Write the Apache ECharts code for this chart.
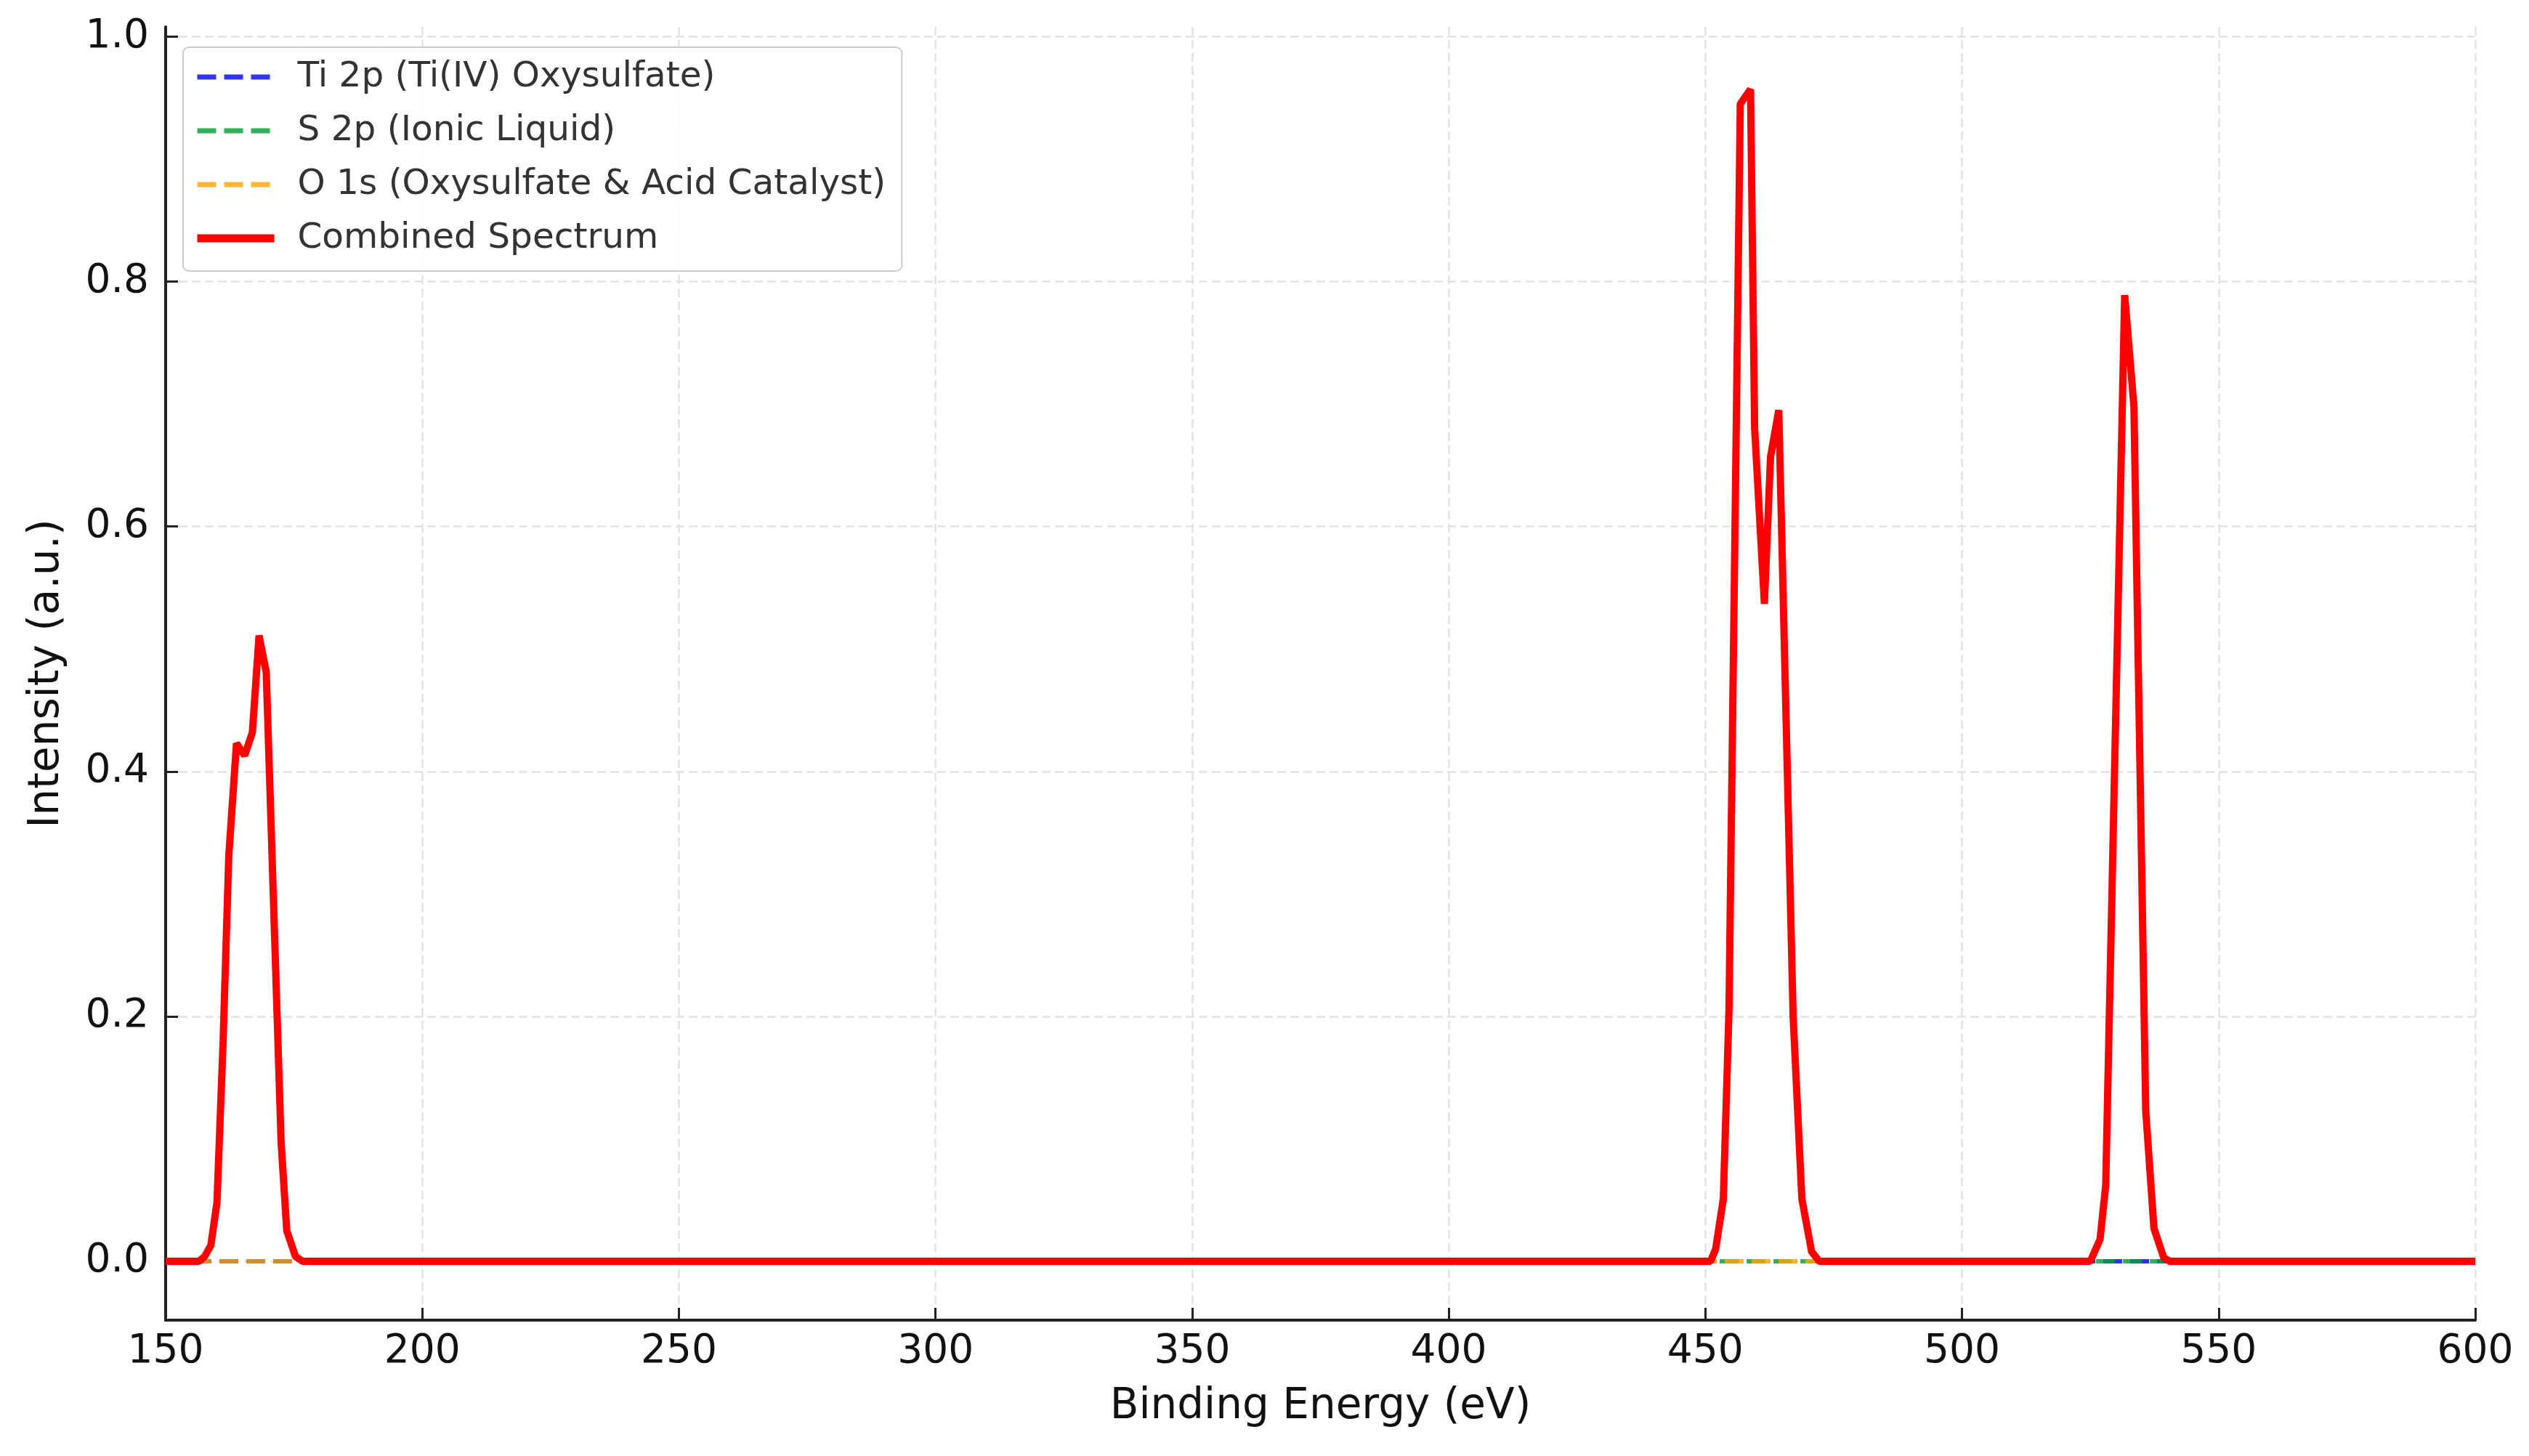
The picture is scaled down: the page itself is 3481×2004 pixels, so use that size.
<!DOCTYPE html>
<html>
<head>
<meta charset="utf-8">
<script src="https://cdn.jsdelivr.net/npm/echarts@6/dist/echarts.min.js"></script>
<style>
html,body{margin:0;padding:0;background:#ffffff;}
#chart{width:3481px;height:2004px;}
</style>
</head>
<body>
<div id="chart"></div>
<script>
// ---- data ----
const xRange = [150, 600];
const xInterval = 50;
const yTickValues = [0, 0.2, 0.4, 0.6, 0.8, 1.0];
const yRange = [-0.048, 1.008];

const seriesNames = [
  'Ti 2p (Ti(IV) Oxysulfate)',
  'S 2p (Ionic Liquid)',
  'O 1s (Oxysulfate & Acid Catalyst)',
  'Combined Spectrum'
];

// S 2p region
const sEnergy    = [156.5, 157.6, 158.8, 160.0, 161.2, 162.3, 163.8, 165.4, 166.9, 168.2, 169.6, 172.5, 173.6, 175.3, 176.7];
const sIntensity = [0.000, 0.004, 0.013, 0.048, 0.180, 0.331, 0.423, 0.413, 0.432, 0.511, 0.481, 0.097, 0.025, 0.004, 0.000];

// Ti 2p region
const tiEnergy    = [451.0, 452.0, 453.5, 454.6, 456.8, 458.8, 459.6, 461.5, 462.7, 464.3, 467.1, 468.8, 470.7, 472.2];
const tiIntensity = [0.000, 0.010, 0.051, 0.205, 0.945, 0.957, 0.680, 0.537, 0.657, 0.695, 0.200, 0.051, 0.008, 0.000];

// O 1s region
const oEnergy    = [525.0, 526.9, 528.0, 531.7, 533.5, 535.8, 537.4, 539.3, 540.5];
const oIntensity = [0.000, 0.018, 0.062, 0.789, 0.698, 0.123, 0.027, 0.003, 0.000];

// ---- build series ----
function pairs(e, v) { return e.map((x, i) => [x, v[i]]); }
function withBaseline(pts) { return [[xRange[0], 0]].concat(pts, [[xRange[1], 0]]); }

const tiData = withBaseline(pairs(tiEnergy, tiIntensity));
const sData  = withBaseline(pairs(sEnergy, sIntensity));
const oData  = withBaseline(pairs(oEnergy, oIntensity));
const combinedData = withBaseline(
  pairs(sEnergy, sIntensity).concat(pairs(tiEnergy, tiIntensity), pairs(oEnergy, oIntensity))
);

const FONT = 'DejaVu Sans';
const DASH = [26, 11];
const gridLine = { show: true, lineStyle: { color: '#e2e2e2', width: 2.5, type: [12, 6] } };
const compColors = ['#0000ff', '#00a030', '#ffa500'];

function compSeries(name, data, color) {
  return {
    name: name, type: 'line', data: data, symbol: 'none', silent: true,
    lineStyle: { color: color, width: 6, type: DASH, opacity: 0.8 },
    itemStyle: { color: color }
  };
}

const chart = echarts.init(document.getElementById('chart'), null, { renderer: 'canvas' });
chart.setOption({
  animation: false,
  backgroundColor: '#ffffff',
  grid: { left: 228, right: 74, top: 37, bottom: 187, containLabel: false },
  legend: {
    orient: 'vertical', left: 252, top: 65,
    data: [
      { name: seriesNames[0], lineStyle: { width: 7, type: DASH, color: compColors[0], opacity: 0.8 } },
      { name: seriesNames[1], lineStyle: { width: 7, type: DASH, color: compColors[1], opacity: 0.8 } },
      { name: seriesNames[2], lineStyle: { width: 7, type: DASH, color: compColors[2], opacity: 0.8 } },
      { name: seriesNames[3], lineStyle: { width: 11, type: 'solid', color: '#ff0000' } }
    ],
    itemWidth: 106, itemHeight: 14, itemGap: 18,
    itemStyle: { opacity: 0 },
    padding: [13, 22, 17, 14],
    backgroundColor: 'rgba(255,255,255,0.85)',
    borderColor: '#cccccc', borderWidth: 2, borderRadius: 8,
    textStyle: { fontSize: 48.5, fontFamily: FONT, color: '#333333', lineHeight: 56, padding: [0, 0, 0, 27] }
  },
  xAxis: {
    type: 'value', min: xRange[0], max: xRange[1], interval: xInterval,
    name: 'Binding Energy (eV)', nameLocation: 'middle', nameGap: 91,
    nameTextStyle: { fontSize: 58, fontFamily: FONT, color: '#111111' },
    axisLine: { show: true, onZero: false, lineStyle: { color: '#222222', width: 4 } },
    axisTick: { show: true, inside: true, length: 17, lineStyle: { color: '#222222', width: 3 } },
    axisLabel: { fontSize: 55, fontFamily: FONT, color: '#111111', margin: 16 },
    splitLine: gridLine
  },
  yAxis: {
    type: 'value', min: yRange[0], max: yRange[1],
    name: 'Intensity (a.u.)', nameLocation: 'middle', nameGap: 134,
    nameTextStyle: { fontSize: 58, fontFamily: FONT, color: '#111111' },
    axisLine: { show: true, onZero: false, lineStyle: { color: '#222222', width: 4 } },
    axisTick: { show: true, inside: true, length: 17, customValues: yTickValues, lineStyle: { color: '#222222', width: 3 } },
    axisLabel: { customValues: yTickValues, formatter: v => Number(v).toFixed(1), fontSize: 55, fontFamily: FONT, color: '#111111', margin: 23 },
    splitLine: gridLine
  },
  series: [
    compSeries(seriesNames[0], tiData, compColors[0]),
    compSeries(seriesNames[1], sData, compColors[1]),
    compSeries(seriesNames[2], oData, compColors[2]),
    {
      name: seriesNames[3], type: 'line', data: combinedData, symbol: 'none', silent: true,
      lineStyle: { color: '#ff0000', width: 10 }, itemStyle: { color: '#ff0000' }, z: 5
    }
  ]
});
</script>
</body>
</html>
